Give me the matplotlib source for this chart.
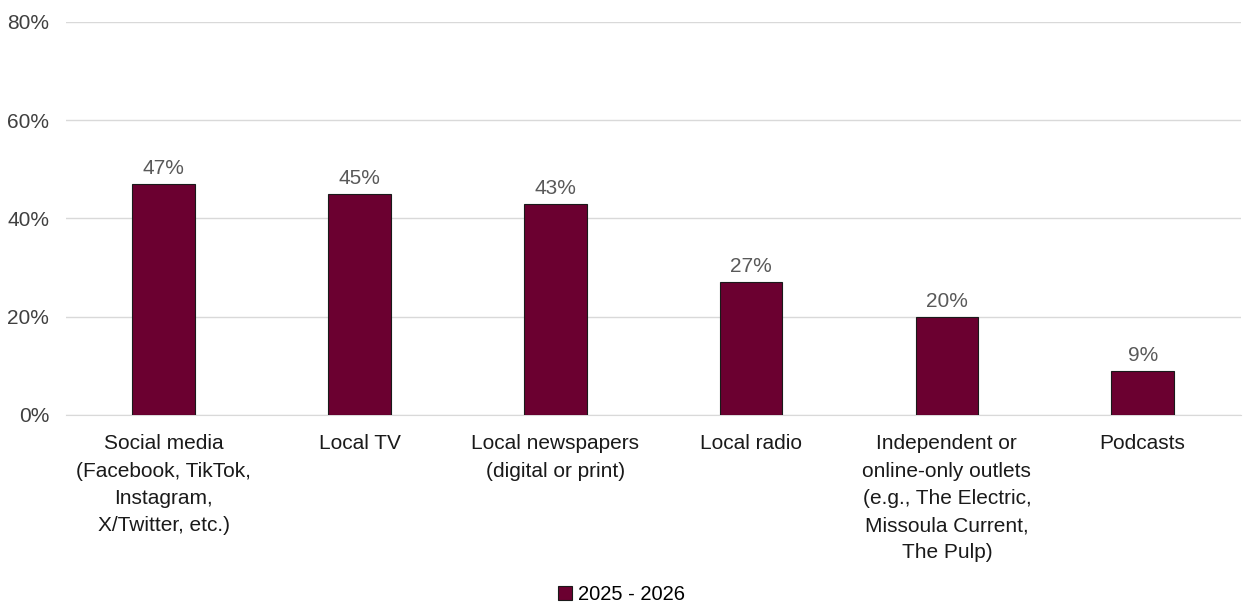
import numpy as np
import matplotlib.pyplot as plt
from matplotlib.ticker import PercentFormatter

plt.rcParams['font.family'] = ['Liberation Sans Narrow', 'Liberation Sans', 'DejaVu Sans']

categories = [
    "Social media\n(Facebook, TikTok,\nInstagram,\nX/Twitter, etc.)",
    "Local TV",
    "Local newspapers\n(digital or print)",
    "Local radio",
    "Independent or\nonline-only outlets\n(e.g., The Electric,\nMissoula Current,\nThe Pulp)",
    "Podcasts",
]
values = [47, 45, 43, 27, 20, 9]
series_name = "2025 - 2026"

fig = plt.figure(figsize=(12.43, 6.04), dpi=100)
ax = fig.add_axes([0.053, 0.313, 0.945, 0.651])

x = np.arange(len(categories))
bars = ax.bar(x, values, width=0.32, color='#6B0030', edgecolor='#1a1a1a',
              linewidth=0.8, label=series_name, zorder=3)

for xi, v in zip(x, values):
    ax.text(xi, v + 1.2, f"{v}%", ha='center', va='bottom', fontsize=15,
            color='#595959')

ax.set_xlim(-0.5, len(categories) - 0.5)
ax.set_ylim(0, 80)
ax.set_yticks([0, 20, 40, 60, 80])
ax.yaxis.set_major_formatter(PercentFormatter(decimals=0))
ax.grid(axis='y', color='#d9d9d9', linewidth=1, zorder=0)
ax.set_xticks(x)
ax.set_xticklabels(categories, fontsize=15, color='#1a1a1a', linespacing=1.55)
ax.tick_params(axis='x', length=0, pad=14)
ax.tick_params(axis='y', length=0, labelsize=15, labelcolor='#404040', pad=12)
for s in ['top', 'right', 'left']:
    ax.spines[s].set_visible(False)
ax.spines['bottom'].set_color('#d9d9d9')

fig.legend(loc='lower center', bbox_to_anchor=(0.5, -0.03), frameon=False,
           fontsize=14.5, handlelength=0.7, handleheight=0.7, handletextpad=0.3)

fig.savefig('out.png', dpi=100)
